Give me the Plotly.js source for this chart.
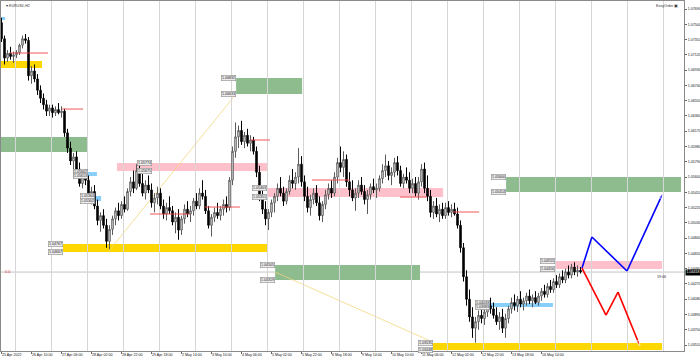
<!DOCTYPE html>
<html><head><meta charset="utf-8">
<script src="https://cdn.plot.ly/plotly-3.0.1.min.js"></script>
<style>html,body{margin:0;padding:0;background:#fff;}#chart{width:700px;height:362px;}</style>
</head><body><div id="chart"></div>
<script>
// ---- H2 candles (EURUSD) ----
const open=[1.0752,1.0732,1.0708,1.0714,1.0710,1.0712,1.0715,1.0724,1.0732,1.0730,
1.0686,1.0692,1.0682,1.0668,1.0658,1.0650,1.0642,1.0646,1.0640,1.0644,
1.0640,1.0642,1.0615,1.0596,1.0580,1.0585,1.0570,1.0552,1.0560,1.0556,
1.0536,1.0542,1.0524,1.0506,1.0512,1.0500,1.0480,1.0495,1.0508,1.0518,
1.0512,1.0526,1.0520,1.0542,1.0554,1.0546,1.0568,1.0552,1.0540,1.0550,
1.0544,1.0528,1.0534,1.0540,1.0524,1.0514,1.0522,1.0518,1.0504,1.0510,
1.0494,1.0508,1.0520,1.0514,1.0518,1.0530,1.0524,1.0540,1.0536,1.0518,
1.0500,1.0510,1.0516,1.0512,1.0520,1.0526,1.0522,1.0556,1.0592,1.0610,
1.0618,1.0604,1.0612,1.0602,1.0606,1.0592,1.0566,1.0536,1.0520,1.0508,
1.0516,1.0528,1.0536,1.0546,1.0540,1.0530,1.0542,1.0556,1.0552,1.0560,
1.0576,1.0554,1.0536,1.0522,1.0532,1.0540,1.0528,1.0512,1.0526,1.0538,
1.0546,1.0540,1.0560,1.0578,1.0572,1.0582,1.0554,1.0544,1.0534,1.0540,
1.0550,1.0542,1.0532,1.0538,1.0548,1.0544,1.0546,1.0558,1.0568,1.0574,
1.0562,1.0566,1.0578,1.0568,1.0552,1.0560,1.0556,1.0546,1.0552,1.0540,
1.0554,1.0570,1.0546,1.0536,1.0516,1.0524,1.0514,1.0520,1.0512,1.0522,
1.0516,1.0520,1.0514,1.0500,1.0472,1.0436,1.0408,1.0386,1.0372,1.0380,
1.0388,1.0384,1.0392,1.0400,1.0396,1.0388,1.0380,1.0386,1.0372,1.0384,
1.0396,1.0404,1.0400,1.0408,1.0402,1.0406,1.0412,1.0406,1.0410,1.0404,
1.0412,1.0418,1.0414,1.0424,1.0420,1.0430,1.0426,1.0436,1.0432,1.0442,
1.0438,1.0448,1.0442,1.0444];
const high=[1.0758,1.0736,1.0718,1.0722,1.0716,1.0718,1.0726,1.0736,1.0738,1.0734,
1.0698,1.0700,1.0688,1.0674,1.0664,1.0656,1.0650,1.0650,1.0648,1.0652,
1.0648,1.0645,1.0620,1.0604,1.0590,1.0592,1.0578,1.0566,1.0570,1.0562,
1.0548,1.0550,1.0532,1.0516,1.0520,1.0508,1.0500,1.0512,1.0522,1.0528,
1.0530,1.0536,1.0546,1.0560,1.0568,1.0576,1.0578,1.0564,1.0556,1.0562,
1.0552,1.0540,1.0548,1.0546,1.0532,1.0528,1.0536,1.0524,1.0516,1.0520,
1.0512,1.0526,1.0530,1.0524,1.0534,1.0540,1.0546,1.0556,1.0544,1.0524,
1.0514,1.0522,1.0528,1.0524,1.0532,1.0536,1.0560,1.0598,1.0628,1.0624,
1.0630,1.0616,1.0620,1.0612,1.0610,1.0598,1.0574,1.0546,1.0530,1.0520,
1.0532,1.0540,1.0552,1.0560,1.0548,1.0546,1.0562,1.0570,1.0566,1.0596,
1.0586,1.0562,1.0548,1.0538,1.0546,1.0550,1.0536,1.0530,1.0544,1.0552,
1.0556,1.0566,1.0584,1.0598,1.0592,1.0588,1.0566,1.0556,1.0546,1.0556,
1.0560,1.0550,1.0544,1.0552,1.0558,1.0552,1.0562,1.0576,1.0588,1.0580,
1.0572,1.0584,1.0586,1.0574,1.0564,1.0572,1.0566,1.0558,1.0560,1.0560,
1.0576,1.0578,1.0562,1.0544,1.0530,1.0534,1.0526,1.0528,1.0528,1.0530,
1.0526,1.0528,1.0522,1.0506,1.0478,1.0444,1.0420,1.0398,1.0386,1.0394,
1.0400,1.0396,1.0406,1.0410,1.0404,1.0398,1.0392,1.0396,1.0390,1.0400,
1.0410,1.0414,1.0412,1.0418,1.0410,1.0416,1.0420,1.0414,1.0418,1.0416,
1.0422,1.0426,1.0428,1.0432,1.0434,1.0438,1.0440,1.0444,1.0446,1.0450,
1.0452,1.0454,1.0450,1.0448];
const low=[1.0728,1.0700,1.0703,1.0706,1.0702,1.0708,1.0712,1.0720,1.0726,1.0680,
1.0676,1.0678,1.0662,1.0652,1.0644,1.0636,1.0636,1.0634,1.0636,1.0638,
1.0634,1.0610,1.0590,1.0575,1.0560,1.0565,1.0548,1.0546,1.0550,1.0530,
1.0526,1.0520,1.0500,1.0492,1.0496,1.0472,1.0470,1.0488,1.0500,1.0506,
1.0508,1.0516,1.0518,1.0536,1.0540,1.0544,1.0548,1.0536,1.0532,1.0540,
1.0522,1.0516,1.0526,1.0520,1.0508,1.0506,1.0514,1.0500,1.0490,1.0482,
1.0488,1.0502,1.0510,1.0504,1.0512,1.0520,1.0520,1.0532,1.0514,1.0496,
1.0486,1.0504,1.0508,1.0506,1.0512,1.0516,1.0518,1.0550,1.0584,1.0596,
1.0600,1.0596,1.0598,1.0592,1.0588,1.0560,1.0530,1.0514,1.0500,1.0494,
1.0510,1.0516,1.0530,1.0536,1.0524,1.0526,1.0538,1.0546,1.0544,1.0552,
1.0548,1.0530,1.0516,1.0512,1.0526,1.0524,1.0506,1.0504,1.0520,1.0532,
1.0534,1.0536,1.0552,1.0566,1.0560,1.0548,1.0536,1.0530,1.0518,1.0534,
1.0538,1.0526,1.0514,1.0532,1.0540,1.0534,1.0542,1.0552,1.0560,1.0556,
1.0550,1.0560,1.0562,1.0548,1.0546,1.0552,1.0540,1.0540,1.0536,1.0532,
1.0548,1.0540,1.0530,1.0510,1.0508,1.0510,1.0504,1.0508,1.0508,1.0512,
1.0510,1.0512,1.0496,1.0466,1.0430,1.0400,1.0380,1.0360,1.0354,1.0370,
1.0378,1.0376,1.0386,1.0390,1.0384,1.0376,1.0370,1.0366,1.0360,1.0378,
1.0390,1.0394,1.0392,1.0398,1.0394,1.0400,1.0402,1.0398,1.0402,1.0400,
1.0406,1.0410,1.0410,1.0416,1.0416,1.0422,1.0422,1.0428,1.0428,1.0434,
1.0434,1.0438,1.0436,1.0440];
const close=[1.0732,1.0708,1.0714,1.0710,1.0712,1.0715,1.0724,1.0732,1.0730,1.0686,
1.0692,1.0682,1.0668,1.0658,1.0650,1.0642,1.0646,1.0640,1.0644,1.0640,
1.0642,1.0615,1.0596,1.0580,1.0585,1.0570,1.0552,1.0560,1.0556,1.0536,
1.0542,1.0524,1.0506,1.0512,1.0500,1.0480,1.0495,1.0508,1.0518,1.0512,
1.0526,1.0520,1.0542,1.0554,1.0546,1.0568,1.0552,1.0540,1.0550,1.0544,
1.0528,1.0534,1.0540,1.0524,1.0514,1.0522,1.0518,1.0504,1.0510,1.0494,
1.0508,1.0520,1.0514,1.0518,1.0530,1.0524,1.0540,1.0536,1.0518,1.0500,
1.0510,1.0516,1.0512,1.0520,1.0526,1.0522,1.0556,1.0592,1.0610,1.0618,
1.0604,1.0612,1.0602,1.0606,1.0592,1.0566,1.0536,1.0520,1.0508,1.0516,
1.0528,1.0536,1.0546,1.0540,1.0530,1.0542,1.0556,1.0552,1.0560,1.0576,
1.0554,1.0536,1.0522,1.0532,1.0540,1.0528,1.0512,1.0526,1.0538,1.0546,
1.0540,1.0560,1.0578,1.0572,1.0582,1.0554,1.0544,1.0534,1.0540,1.0550,
1.0542,1.0532,1.0538,1.0548,1.0544,1.0546,1.0558,1.0568,1.0574,1.0562,
1.0566,1.0578,1.0568,1.0552,1.0560,1.0556,1.0546,1.0552,1.0540,1.0554,
1.0570,1.0546,1.0536,1.0516,1.0524,1.0514,1.0520,1.0512,1.0522,1.0516,
1.0520,1.0514,1.0500,1.0472,1.0436,1.0408,1.0386,1.0372,1.0380,1.0388,
1.0384,1.0392,1.0400,1.0396,1.0388,1.0380,1.0386,1.0372,1.0384,1.0396,
1.0404,1.0400,1.0408,1.0402,1.0406,1.0412,1.0406,1.0410,1.0404,1.0412,
1.0418,1.0414,1.0424,1.0420,1.0430,1.0426,1.0436,1.0432,1.0442,1.0438,
1.0448,1.0442,1.0444,1.0442];

// ---- time axis ----
const timeLabels=["25 Apr 2022","26 Apr 10:00","27 Apr 06:00","28 Apr 02:00","28 Apr 22:00","29 Apr 18:00",
"2 May 14:00","3 May 10:00","4 May 06:00","5 May 02:00","5 May 22:00","6 May 18:00",
"9 May 14:00","10 May 10:00","11 May 06:00","12 May 02:00","12 May 22:00","13 May 18:00","16 May 14:00"];
const timeLabelBars=[0,10,20,30,40,50,60,70,80,90,100,110,120,130,140,150,160,170,180];
const dayGridBars=[4.5,16.5,28.5,40.5,52.5,64.5,76.5,88.5,100.5,112.5,124.5,136.5,148.5,160.5,172.5,184.5,196.5,208.5,220.5];
// ---- price axis ----
const priceTicks=[1.03510,1.03700,1.03890,1.04080,1.04270,1.04460,1.04650,1.04840,1.05030,1.05220,1.05410,1.05600,
1.05790,1.05980,1.06170,1.06360,1.06550,1.06740,1.06930,1.07120,1.07310,1.07500,1.07690];
const bidPrice=1.04418;
const symbolName="EURUSD,H2";

// ---- supply / demand zones ----
const zoneStart=[-0.5,-0.5,-0.5,78.2,38.5,20.5,28.8,31.2,88.5,91.2,168.2,184.5,143.8,162.8];
const zoneEnd=[13.5,1.2,28.5,100.2,88.5,88.5,31.8,33.2,147.2,139.5,226.5,220.2,220.2,183.8];
const zoneHigh=[1.07044,1.07591,1.06098,1.06832,1.05774,1.04767,1.05662,1.05364,1.05463,1.04505,1.05600,1.04555,1.03535,1.04033];
const zoneLow=[1.06956,1.07554,1.05911,1.06633,1.05675,1.04667,1.05613,1.05302,1.05351,1.04319,1.05414,1.04456,1.03448,1.03983];
const zoneKind=["gold","sky","green","green","pink","gold","sky","sky","pink","green","green","pink","gold","sky"];
const zoneLabelBar=[null,null,null,78.2,50.2,20.5,28.8,31.2,88.5,91.2,168.2,184.5,143.8,162.8];

// ---- short horizontal levels ----
const levelStart=[2.8,20.2,49.5,67.8,82.8,103.5,132.8,150.5];
const levelEnd=[15.5,27.2,62.8,79.5,89.5,116.2,141.8,159.2];
const levelPrice=[1.07143,1.06446,1.05140,1.05227,1.06061,1.05563,1.05351,1.05165];

// ---- thin trend lines ----
const trendStartBar=[35.5,91.2], trendEndBar=[78.2,143.8];
const trendStartPrice=[1.04667,1.04418], trendEndPrice=[1.06633,1.03547];

// ---- projections ----
const bullBars=[193.5,196.8,208.5,220.5], bullPrices=[1.04468,1.04854,1.04431,1.05401];
const bearBars=[193.5,201.5,205.5,212.8], bearPrices=[1.04468,1.03883,1.04169,1.03498];

// ================= build =================
const kindColor={gold:'#FFD700',sky:'#87CEFA',green:'#8FBC8F',pink:'#FFC0CB'};
const FONT='Liberation Sans, Arial, sans-serif';
const bars=open.map((_,i)=>i);
const XR=[-0.1667,227.5], YR=[1.03436,1.07790];

const shapes=[];
zoneStart.forEach((s,i)=>shapes.push({type:'rect',xref:'x',yref:'y',x0:s,x1:zoneEnd[i],y0:zoneLow[i],y1:zoneHigh[i],
  fillcolor:kindColor[zoneKind[i]],line:{width:0},layer:'below'}));
trendStartBar.forEach((s,i)=>shapes.push({type:'line',xref:'x',yref:'y',x0:s,x1:trendEndBar[i],y0:trendStartPrice[i],y1:trendEndPrice[i],
  line:{color:'rgba(240,214,120,0.75)',width:1},layer:'below'}));
shapes.push({type:'line',xref:'paper',yref:'y',x0:0,x1:1,y0:bidPrice,y1:bidPrice,line:{color:'#c4c4c4',width:1},layer:'below'});
levelStart.forEach((s,i)=>shapes.push({type:'line',xref:'x',yref:'y',x0:s,x1:levelEnd[i],y0:levelPrice[i],y1:levelPrice[i],
  line:{color:'rgba(238,70,70,0.9)',width:1},layer:'above'}));

const annotations=[];
const lab=(x,y)=>({xref:'x',yref:'y',x:x,y:y,text:y.toFixed(5),showarrow:false,xanchor:'right',yanchor:'middle',
  font:{family:FONT,size:3.6,color:'#222'},bgcolor:'#ececec',bordercolor:'#8c8c8c',borderwidth:0.6,borderpad:0.4});
zoneLabelBar.forEach((b,i)=>{ if(b!==null){ annotations.push(lab(b,zoneHigh[i])); annotations.push(lab(b,zoneLow[i])); }});
annotations.push({xref:'paper',yref:'paper',x:0.004,y:0.997,xanchor:'left',yanchor:'top',showarrow:false,
  text:'▾ '+symbolName,font:{family:FONT,size:3.6,color:'#333'}});
annotations.push({xref:'paper',yref:'paper',x:0.994,y:0.997,xanchor:'right',yanchor:'top',showarrow:false,
  text:'EasyOrder ▣',font:{family:FONT,size:3.6,color:'#333'}});
annotations.push({xref:'paper',yref:'y',x:1,y:bidPrice,xanchor:'left',yanchor:'middle',showarrow:false,xshift:1,
  text:bidPrice.toFixed(5),font:{family:FONT,size:3.6,color:'#fff'},bgcolor:'#000',borderpad:0.4});
annotations.push({xref:'paper',yref:'y',x:0.977,y:bidPrice,xanchor:'right',yanchor:'top',yshift:-1,showarrow:false,
  text:'19:06',font:{family:FONT,size:3.6,color:'#222'}});
annotations.push({xref:'paper',yref:'y',x:0.003,y:bidPrice,xanchor:'left',yanchor:'middle',showarrow:false,
  text:'0.0',font:{family:FONT,size:3.8,color:'#e03030'}});

const data=[
 {type:'candlestick',x:bars,open:open,high:high,low:low,close:close,xaxis:'x',yaxis:'y',
  increasing:{line:{color:'#5a5a5a',width:1},fillcolor:'#ffffff'},
  decreasing:{line:{color:'#000000',width:1},fillcolor:'#000000'},
  whiskerwidth:0,hoverinfo:'skip',showlegend:false},
 {type:'scatter',mode:'lines+markers',x:bullBars,y:bullPrices,xaxis:'x',yaxis:'y',
  line:{color:'#0000ff',width:1.6},marker:{symbol:'arrow',angleref:'previous',size:[0,0,0,6],color:'#0000ff'},hoverinfo:'skip'},
 {type:'scatter',mode:'lines+markers',x:bearBars,y:bearPrices,xaxis:'x',yaxis:'y',
  line:{color:'#ff0000',width:1.6},marker:{symbol:'arrow',angleref:'previous',size:[0,0,0,6],color:'#ff0000'},hoverinfo:'skip'},
 {type:'scatter',mode:'markers',x:[null],y:[null],xaxis:'x2',yaxis:'y',hoverinfo:'skip',showlegend:false}
];

const layout={
 width:700,height:362,margin:{l:1,r:16,t:1,b:11},paper_bgcolor:'#ffffff',plot_bgcolor:'#ffffff',showlegend:false,
 font:{family:FONT,size:3.6,color:'#000'},
 xaxis:{range:XR,tickmode:'array',tickvals:dayGridBars,ticktext:dayGridBars.map(()=>''),showgrid:true,gridcolor:'#d6d6d6',gridwidth:1,
   ticks:'',showline:true,linecolor:'#8a8a8a',linewidth:1,mirror:true,zeroline:false,rangeslider:{visible:false},fixedrange:true},
 xaxis2:{overlaying:'x',anchor:'y',side:'bottom',range:XR,tickmode:'array',tickvals:timeLabelBars,ticktext:timeLabels,
   ticklabelposition:'outside right',tickangle:0,ticks:'outside',ticklen:2,tickcolor:'#666',showgrid:false,zeroline:false,showline:false,
   tickfont:{family:FONT,size:3.6,color:'#111'},fixedrange:true},
 yaxis:{side:'right',range:YR,tickmode:'array',tickvals:priceTicks,tickformat:'.5f',ticks:'outside',ticklen:2,tickcolor:'#666',
   showgrid:false,zeroline:false,showline:true,linecolor:'#8a8a8a',linewidth:1,mirror:true,
   tickfont:{family:FONT,size:3.6,color:'#111'},fixedrange:true},
 shapes:shapes,annotations:annotations
};
Plotly.newPlot('chart',data,layout,{displayModeBar:false,staticPlot:true});
</script></body></html>
